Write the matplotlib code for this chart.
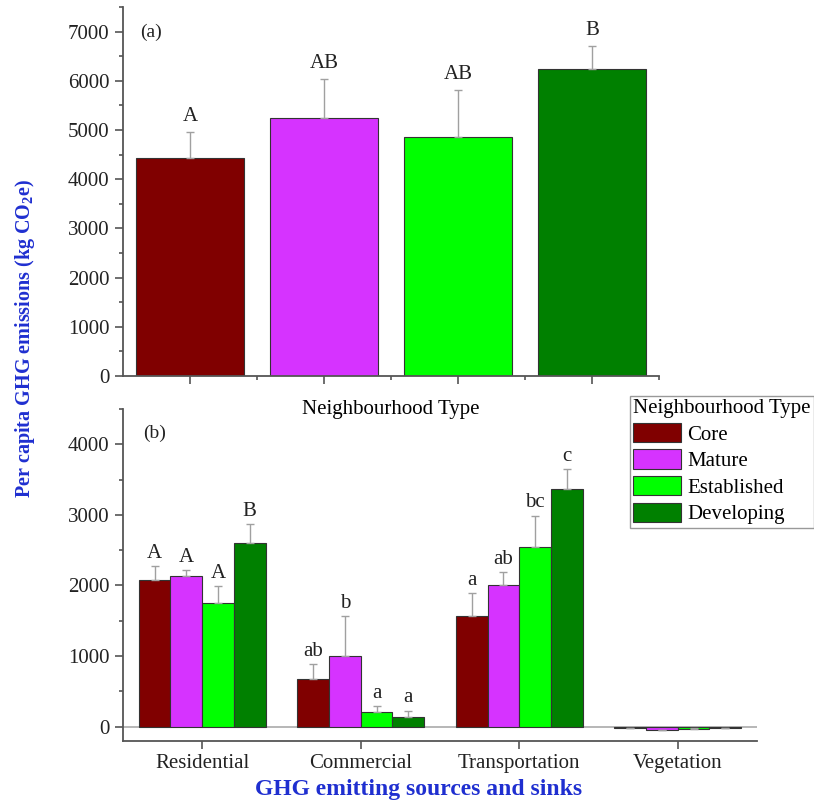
import numpy as np
import matplotlib.pyplot as plt
from matplotlib.patches import Patch
from matplotlib.ticker import MultipleLocator, FixedLocator

plt.rcParams['font.family'] = ['Liberation Serif', 'DejaVu Serif']
plt.rcParams['mathtext.fontset'] = 'custom'
plt.rcParams['mathtext.rm'] = 'Liberation Serif'
plt.rcParams['mathtext.bf'] = 'Liberation Serif:bold'

# neighbourhood types and colours
types = ['Core', 'Mature', 'Established', 'Developing']
colors = ['#800000', '#d633ff', '#00ff00', '#008000']

# panel (a): total per capita emissions
total_mean = [4430, 5250, 4850, 6230]
total_err = [530, 780, 970, 470]
total_letters = ['A', 'AB', 'AB', 'B']

# panel (b): emissions by source
sources = ['Residential', 'Commercial', 'Transportation', 'Vegetation']
src_mean = {
    'Core':        [2080, 680, 1560, -20],
    'Mature':      [2130, 1000, 2000, -50],
    'Established': [1750, 200, 2550, -30],
    'Developing':  [2600, 140, 3370, -20],
}
src_err = {
    'Core':        [190, 200, 330, 5],
    'Mature':      [85, 565, 190, 5],
    'Established': [240, 85, 440, 5],
    'Developing':  [265, 85, 280, 5],
}
src_letters = {
    'Core':        ['A', 'ab', 'a', ''],
    'Mature':      ['A', 'b', 'ab', ''],
    'Established': ['A', 'a', 'bc', ''],
    'Developing':  ['B', 'a', 'c', ''],
}

spine_col = '#555555'
err_col = '#a0a0a0'
blue = '#1f2fd0'
fs = 15

fig = plt.figure(figsize=(8.14, 8.06), dpi=100)
ax1 = fig.add_axes([0.151, 0.5335, 0.6586, 0.4578])
ax2 = fig.add_axes([0.151, 0.081, 0.779, 0.4116])
ax2.patch.set_visible(False)


def style(ax):
    for s in ['top', 'right']:
        ax.spines[s].set_visible(False)
    for s in ['left', 'bottom']:
        ax.spines[s].set_color(spine_col)
        ax.spines[s].set_linewidth(1.3)
    ax.tick_params(which='both', direction='out', color=spine_col, width=1.2,
                   labelsize=fs, labelcolor='#222222')
    ax.tick_params(which='major', length=6)
    ax.tick_params(which='minor', length=3)


# ---- panel (a)
x = np.arange(1, 5)
ax1.bar(x, total_mean, width=0.8, color=colors, edgecolor='#333333', linewidth=0.8,
        yerr=[np.zeros(4), total_err], ecolor=err_col, capsize=3,
        error_kw=dict(elinewidth=1, capthick=1))
for xi, m, e, lab in zip(x, total_mean, total_err, total_letters):
    ax1.annotate(lab, (xi, m + e), xytext=(0, 8), textcoords='offset points',
                 ha='center', va='baseline', fontsize=fs, color='#222222')
ax1.set_xlim(0.5, 4.5)
ax1.set_ylim(0, 7500)
ax1.yaxis.set_major_locator(MultipleLocator(1000))
ax1.yaxis.set_minor_locator(MultipleLocator(500))
ax1.xaxis.set_major_locator(FixedLocator(x))
ax1.xaxis.set_minor_locator(FixedLocator([1.5, 2.5, 3.5, 4.5]))
ax1.set_xticklabels([])
style(ax1)
ax1.set_xlabel('Neighbourhood Type', fontsize=fs, labelpad=8)
ax1.text(0.032, 0.932, '(a)', transform=ax1.transAxes, fontsize=14, color='#222222',
         va='center')

# ---- panel (b)
bw = 0.2
for i, t in enumerate(types):
    pos = x + (i - 1.5) * bw
    ax2.bar(pos, src_mean[t], width=bw, color=colors[i], edgecolor='#333333', linewidth=0.8,
            yerr=[np.zeros(4), src_err[t]], ecolor=err_col, capsize=3,
            error_kw=dict(elinewidth=1, capthick=1))
    for p, m, e, lab in zip(pos, src_mean[t], src_err[t], src_letters[t]):
        if lab:
            ax2.annotate(lab, (p, m + e), xytext=(0, 6), textcoords='offset points',
                         ha='center', va='baseline', fontsize=fs, color='#222222')
ax2.axhline(0, color='#aaaaaa', linewidth=1.2, zorder=0)
ax2.set_xlim(0.5, 4.5)
ax2.set_ylim(-200, 4500)
ax2.yaxis.set_major_locator(MultipleLocator(1000))
ax2.yaxis.set_minor_locator(MultipleLocator(500))
ax2.set_xticks(x)
ax2.set_xticklabels(sources)
style(ax2)
ax2.text(0.032, 0.928, '(b)', transform=ax2.transAxes, fontsize=14, color='#222222',
         va='center')

handles = [Patch(facecolor=c, edgecolor='#333333', linewidth=0.8, label=t)
           for c, t in zip(colors, types)]
leg = fig.legend(handles=handles, title='Neighbourhood Type', loc='upper left',
                 bbox_to_anchor=(630 / 814, 1 - 396 / 806), fontsize=fs, title_fontsize=fs,
                 frameon=True, fancybox=False, edgecolor='#999999', framealpha=1,
                 handlelength=2.3, handleheight=1.05, handletextpad=0.3,
                 labelspacing=0.23, borderpad=0.15, borderaxespad=0)
leg._legend_box.align = 'left'

fig.text(25 / 814, 1 - 338 / 806, r'Per capita GHG emissions (kg CO$_\mathbf{2}$e)',
         rotation=90, ha='center', va='center', fontsize=14.5, fontweight='bold', color=blue)
fig.text(419 / 814, 1 - 790 / 806, 'GHG emitting sources and sinks',
         ha='center', va='center', fontsize=17, fontweight='bold', color=blue)

fig.savefig('out.png', dpi=100)
